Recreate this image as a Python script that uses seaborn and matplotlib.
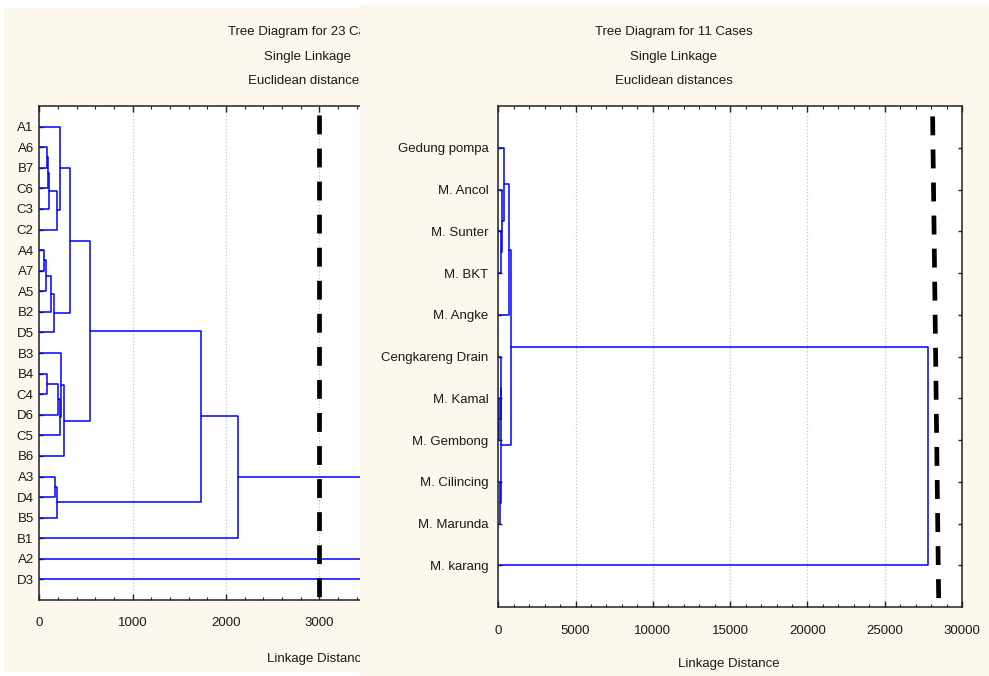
import numpy as np
import pandas as pd
import matplotlib
matplotlib.use("Agg")
import matplotlib.pyplot as plt
import seaborn as sns
from matplotlib.patches import Rectangle
from matplotlib.ticker import MultipleLocator

# ---------------- data ----------------
left_leaves = ["A1", "A6", "B7", "C6", "C3", "C2", "A4", "A7", "A5", "B2", "D5",
               "B3", "B4", "C4", "D6", "C5", "B6", "A3", "D4", "B5", "B1", "A2", "D3"]
# (child, child, linkage distance); "#k" refers to the k-th merge
left_merges = [("A6", "B7", 82), ("#0", "C6", 96), ("#1", "C3", 104), ("#2", "C2", 190),
               ("A1", "#3", 225), ("A4", "A7", 46), ("#5", "A5", 75), ("#6", "B2", 125),
               ("#7", "D5", 153), ("#4", "#8", 328), ("B4", "C4", 86), ("#10", "D6", 204),
               ("#11", "C5", 218), ("B3", "#12", 236), ("#13", "B6", 261), ("#9", "#14", 539),
               ("A3", "D4", 172), ("#16", "B5", 194), ("#15", "#17", 1728), ("#18", "B1", 2132),
               ("#19", "A2", 3900), ("#20", "D3", 4200)]
left_cut = 3000
left_xticks = [0, 1000, 2000, 3000]

right_leaves = ["Gedung pompa", "M. Ancol", "M. Sunter", "M. BKT", "M. Angke",
                "Cengkareng Drain", "M. Kamal", "M. Gembong", "M. Cilincing",
                "M. Marunda", "M. karang"]
right_merges = [("M. Sunter", "M. BKT", 170), ("M. Ancol", "#0", 260),
                ("Gedung pompa", "#1", 390), ("#2", "M. Angke", 710),
                ("M. Kamal", "M. Gembong", 60), ("Cengkareng Drain", "#4", 150),
                ("M. Cilincing", "M. Marunda", 90), ("#5", "#6", 200),
                ("#3", "#7", 840), ("#8", "M. karang", 27800)]
right_cut = [28100, 28500]   # cut line drawn slightly slanted (top, bottom)
right_xticks = [0, 5000, 10000, 15000, 20000, 25000, 30000]

left_titles = ["Tree Diagram for 23 Cases", "Single Linkage", "Euclidean distances"]
right_titles = ["Tree Diagram for 11 Cases", "Single Linkage", "Euclidean distances"]
xlabel = "Linkage Distance"


def dendro_segments(leaves, merges):
    pos = {n: float(i) for i, n in enumerate(leaves)}
    hgt = {n: 0.0 for n in leaves}
    rows = []
    for k, (a, b, h) in enumerate(merges):
        ya, yb, ha, hb = pos[a], pos[b], hgt[a], hgt[b]
        for x, y in [(ha, ya), (h, ya), (h, yb), (hb, yb)]:
            rows.append({"dist": x, "pos": y, "seg": k})
        pos[f"#{k}"] = (ya + yb) / 2
        hgt[f"#{k}"] = h
    return pd.DataFrame(rows)


# ---------------- figure ----------------
sns.set_style("white")
plt.rcParams["font.family"] = ["Liberation Sans", "DejaVu Sans"]
FS = 9.5
W, H = 989, 676
fig = plt.figure(figsize=(W / 100, H / 100), dpi=100)
fig.patch.set_facecolor("white")
cream = "#FCF8EE"
txt = "#1a1a1a"


def fx(x):
    return x / W


def fy(y):
    return 1 - y / H


# panel backgrounds
fig.patches.append(Rectangle((fx(4), fy(672)), fx(360) - fx(4), fy(8) - fy(672),
                             transform=fig.transFigure, facecolor=cream, edgecolor="none", zorder=-1))
fig.patches.append(Rectangle((fx(360), fy(676)), fx(989) - fx(360), fy(5) - fy(676),
                             transform=fig.transFigure, facecolor=cream, edgecolor="none", zorder=1))


def style_axes(ax, major, minor, right_spine, xpad):
    ax.set_facecolor("white")
    for s in ["left", "bottom", "top", "right"]:
        ax.spines[s].set_color("#222222")
        ax.spines[s].set_linewidth(1.1)
    ax.spines["right"].set_visible(right_spine)
    ax.xaxis.set_major_locator(MultipleLocator(major))
    ax.xaxis.set_minor_locator(MultipleLocator(minor))
    ax.tick_params(axis="x", which="major", direction="in", top=True, bottom=True,
                   length=4, width=1, color="#222222", labelsize=FS, labelcolor=txt, pad=xpad)
    ax.tick_params(axis="x", which="minor", direction="in", top=True, bottom=True,
                   length=2.2, width=0.8, color="#222222")
    ax.tick_params(axis="y", which="major", direction="in", left=True, right=right_spine,
                   length=3, width=1, color="#222222", labelsize=FS, labelcolor=txt)
    ax.grid(axis="x", which="major", color="#c4c4c4", ls=":", lw=0.9)
    ax.set_axisbelow(True)
    ax.set_xlabel("")
    ax.set_ylabel("")


# ---- left panel ----
ax1 = fig.add_axes([fx(39.3), fy(600), fx(360) - fx(39.3), fy(106) - fy(600)])
df1 = dendro_segments(left_leaves, left_merges)
sns.lineplot(data=df1, x="dist", y="pos", units="seg", estimator=None, sort=False,
             color="#0000FF", lw=1.1, ax=ax1, legend=False)
ax1.plot([left_cut, left_cut], [-0.55, 23.45], color="black", lw=3.4,
         dashes=(4.0, 3.0), clip_on=False, zorder=5, dash_capstyle="butt")
ax1.set_xlim(0, (360 - 39.3) / 0.0933)
ax1.set_ylim(len(left_leaves), -1)
ax1.set_yticks(range(len(left_leaves)))
ax1.set_yticklabels(left_leaves)
style_axes(ax1, 1000, 200, False, 12)
ax1.set_xticks(left_xticks)
ax1.tick_params(axis="y", pad=4)

for t, yy in zip(left_titles, [32, 57, 81]):
    fig.text(fx(307), fy(yy), t, ha="center", va="center", fontsize=FS, color=txt, zorder=0.5)
fig.text(fx(318), fy(659), xlabel, ha="center", va="center", fontsize=FS, color=txt, zorder=0.5)

# ---- right panel ----
ax2 = fig.add_axes([fx(498.3), fy(607), fx(962) - fx(498.3), fy(106) - fy(607)])
ax2.set_zorder(2)
df2 = dendro_segments(right_leaves, right_merges)
sns.lineplot(data=df2, x="dist", y="pos", units="seg", estimator=None, sort=False,
             color="#0000FF", lw=1.1, ax=ax2, legend=False)
ax2.plot(right_cut, [-0.75, 11.1], color="black", lw=3.4,
         dashes=(4.0, 3.0), clip_on=False, zorder=5, dash_capstyle="butt")
ax2.set_xlim(0, 30000)
ax2.set_ylim(len(right_leaves), -1)
ax2.set_yticks(range(len(right_leaves)))
ax2.set_yticklabels(right_leaves)
style_axes(ax2, 5000, 1000, True, 13)
ax2.set_xticks(right_xticks)
ax2.tick_params(axis="y", pad=7)

for t, yy in zip(right_titles, [32, 57, 81]):
    fig.text(fx(674), fy(yy), t, ha="center", va="center", fontsize=FS, color=txt, zorder=3)
fig.text(fx(729), fy(664), xlabel, ha="center", va="center", fontsize=FS, color=txt, zorder=3)

fig.savefig("out.png", dpi=100, facecolor="white")
